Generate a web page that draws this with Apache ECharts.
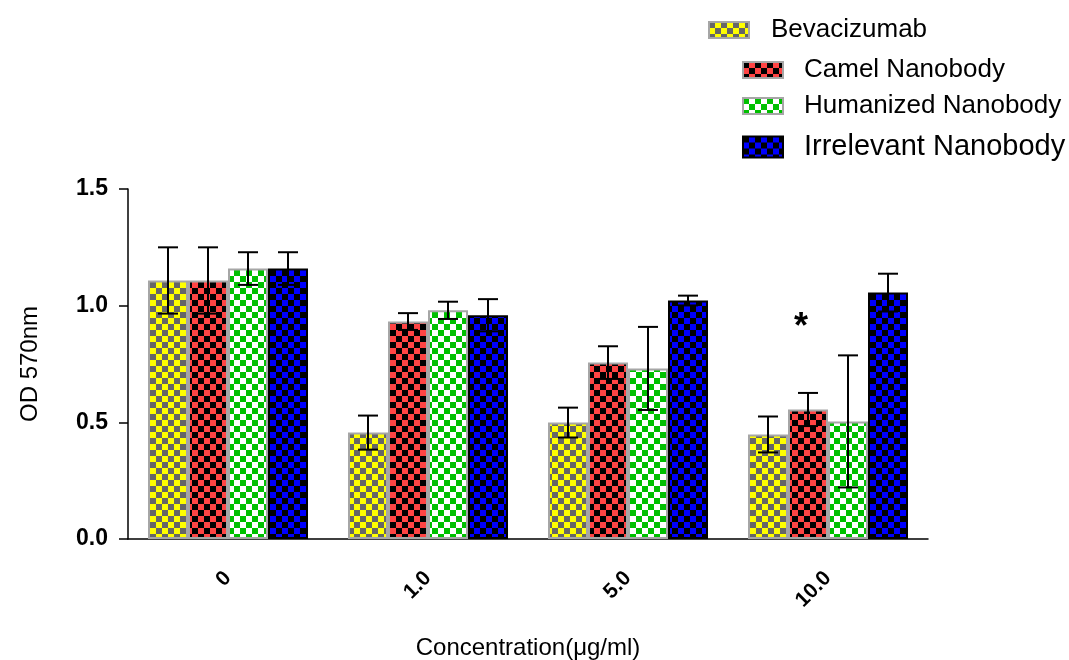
<!DOCTYPE html>
<html><head><meta charset="utf-8">
<script src="https://cdn.jsdelivr.net/npm/echarts@6/dist/echarts.min.js"></script>
<style>html,body{margin:0;padding:0;background:#fff}#c{width:1069px;height:660px}</style>
</head><body><div id="c"></div>
<script>
// ---- data ----
const categories = ['0', '1.0', '5.0', '10.0'];
const seriesNames = ['Bevacizumab', 'Camel Nanobody', 'Humanized Nanobody', 'Irrelevant Nanobody'];
const bevacizumab    = [1.108, 0.456, 0.499, 0.448];
const bevacizumabErr = [0.142, 0.073, 0.064, 0.077];
const camel          = [1.108, 0.932, 0.756, 0.555];
const camelErr       = [0.142, 0.036, 0.070, 0.071];
const humanized      = [1.159, 0.980, 0.731, 0.504];
const humanizedErr   = [0.070, 0.037, 0.178, 0.283];
const irrelevant     = [1.159, 0.959, 1.022, 1.056];
const irrelevantErr  = [0.070, 0.069, 0.021, 0.081];
const yTicks = [0, 0.5, 1.0, 1.5];
const significance = [{ series: 1, category: 3, value: 0.94, text: '*' }];

const means = [bevacizumab, camel, humanized, irrelevant];
const errs = [bevacizumabErr, camelErr, humanizedErr, irrelevantErr];

// ---- styles ----
function pattern(c1, c2, cell) {
  const cv = document.createElement('canvas');
  cv.width = cell * 2; cv.height = cell * 2;
  const g = cv.getContext('2d');
  g.fillStyle = c1; g.fillRect(0, 0, cell * 2, cell * 2);
  g.fillStyle = c2; g.fillRect(0, 0, cell, cell); g.fillRect(cell, cell, cell, cell);
  return { image: cv, repeat: 'repeat' };
}
const fills = [
  pattern('#ffff00', '#666666', 6),
  pattern('#ff4444', '#000000', 6),
  pattern('#ffffff', '#00c000', 6),
  pattern('#0000ff', '#000000', 6)
];
const borders = ['#a6a6a6', '#a6a6a6', '#a6a6a6', '#000000'];
const legendFont = [26, 26, 26, 29];
const legendLeft = [708, 742, 742, 742];
const legendCenter = [30, 70, 106, 147];
const legendIconH = [16, 16, 16, 21];
const NB = seriesNames.length;
const CAT_GAP = 0.2;
const FONT = '"Liberation Sans", Arial, sans-serif';

const chart = echarts.init(document.getElementById('c'), null, { renderer: 'canvas' });

function barOffset(api, si) {
  const band = api.size([1, 0])[0];
  const bw = band * (1 - CAT_GAP) / NB;
  return { bw: bw, dx: (si - (NB - 1) / 2) * bw };
}

const series = [];
seriesNames.forEach(function (name, si) {
  series.push({
    name: name, type: 'bar', data: means[si],
    barGap: '0%', barCategoryGap: (CAT_GAP * 100) + '%',
    itemStyle: { color: fills[si], borderColor: borders[si], borderWidth: 2 },
    z: 2
  });
});
seriesNames.forEach(function (name, si) {
  series.push({
    type: 'custom', name: 'err' + si, z: 5, silent: true,
    data: categories.map(function (c, ci) { return [ci, means[si][ci], errs[si][ci]]; }),
    renderItem: function (params, api) {
      const o = barOffset(api, si);
      const m = api.value(1), e = api.value(2);
      const top = api.coord([api.value(0), m + e]);
      const bot = api.coord([api.value(0), m - e]);
      const x = top[0] + o.dx;
      const cap = 10;
      const st = { stroke: '#000', lineWidth: 2 };
      return { type: 'group', children: [
        { type: 'line', shape: { x1: x, y1: top[1], x2: x, y2: bot[1] }, style: st },
        { type: 'line', shape: { x1: x - cap, y1: top[1], x2: x + cap, y2: top[1] }, style: st },
        { type: 'line', shape: { x1: x - cap, y1: bot[1], x2: x + cap, y2: bot[1] }, style: st }
      ]};
    }
  });
});
series.push({
  type: 'custom', name: 'sig', z: 6, silent: true,
  data: significance.map(function (s) { return [s.category, s.value, s.series]; }),
  renderItem: function (params, api) {
    const o = barOffset(api, api.value(2));
    const p = api.coord([api.value(0), api.value(1)]);
    return { type: 'text', style: {
      x: p[0] + o.dx - 7, y: p[1] + 8, text: significance[params.dataIndex].text,
      fill: '#000', font: 'bold 36px ' + FONT,
      align: 'center', verticalAlign: 'middle' } };
  }
});

const legends = seriesNames.map(function (name, si) {
  return {
    data: [name], left: legendLeft[si], top: legendCenter[si] - 17, padding: 0,
    itemWidth: 40, itemHeight: legendIconH[si], icon: 'rect', selectedMode: false,
    textStyle: { fontFamily: FONT, fontSize: legendFont[si],
      color: '#000', lineHeight: 34, padding: [0, 0, 0, si === 0 ? 17 : 16] }
  };
});

chart.setOption({
  animation: false,
  backgroundColor: '#fff',
  legend: legends,
  grid: { left: 128, right: 141, top: 189, bottom: 121, containLabel: false, outerBoundsMode: 'none' },
  xAxis: {
    type: 'category', data: categories,
    name: 'Concentration(μg/ml)', nameLocation: 'middle', nameGap: 97,
    nameTextStyle: { fontFamily: FONT, fontSize: 24, color: '#000' },
    axisLine: { lineStyle: { color: '#000', width: 1.5 } },
    axisTick: { alignWithLabel: true, length: 8, lineStyle: { color: '#000', width: 1.5 } },
    axisLabel: { rotate: 45, margin: 36, fontFamily: FONT,
      fontWeight: 'bold', fontSize: 21, color: '#000' }
  },
  yAxis: {
    type: 'value', min: yTicks[0], max: yTicks[yTicks.length - 1], interval: yTicks[1] - yTicks[0],
    name: 'OD 570nm', nameLocation: 'middle', nameGap: 86, nameRotate: 90,
    nameTextStyle: { fontFamily: FONT, fontSize: 24, color: '#000' },
    axisLine: { show: true, lineStyle: { color: '#000', width: 1.5 } },
    axisTick: { show: true, length: 9, lineStyle: { color: '#000', width: 1.5 } },
    splitLine: { show: false },
    axisLabel: { margin: 20, fontFamily: FONT, fontWeight: 'bold',
      fontSize: 23, color: '#000', formatter: function (v) { return v.toFixed(1); } }
  },
  series: series
});
</script></body></html>
